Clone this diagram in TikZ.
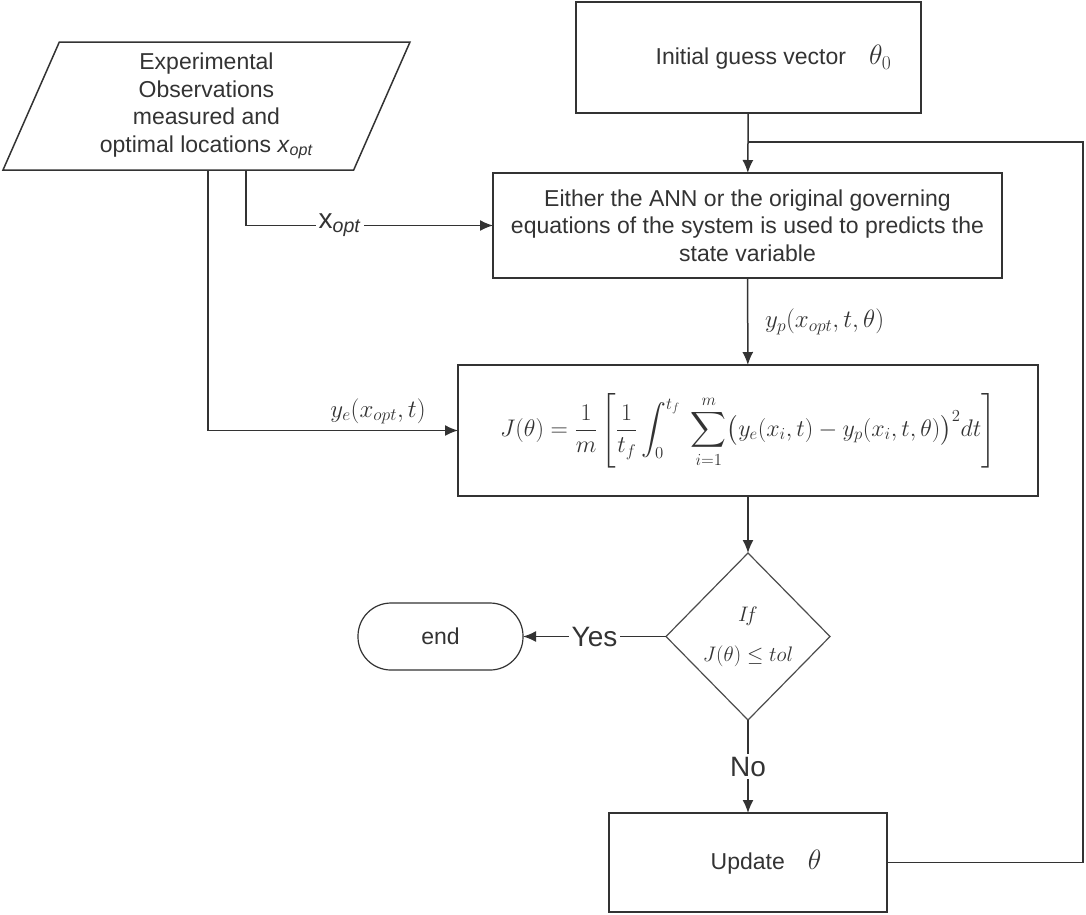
\RequirePackage{fix-cm}
\documentclass[tikz,border=0pt]{standalone}
\usepackage{amsmath}
\usepackage{fontspec}
\setmainfont{Liberation Sans}
\usetikzlibrary{shapes.geometric,arrows.meta}

\begin{document}
\begin{tikzpicture}[x=1pt, y=-1pt]

  \tikzset{
    every node/.style={
      text=black!80,
      font=\fontsize{23}{27.5}\selectfont,
      outer sep=0pt,
    },
    process/.style={
      draw=black!80,
      line width=1.5pt,
      rectangle,
      inner sep=0pt,
      align=center,
    },
    data/.style={
      draw=black!80,
      line width=1.5pt,
      trapezium,
      trapezium left angle=62,
      trapezium right angle=118,
      trapezium stretches body=true,
      minimum width=407,
      minimum height=128,
      inner sep=0pt,
      align=center,
    },
    decision/.style={
      draw=black!70,
      line width=1.2pt,
      diamond,
      minimum width=164,
      minimum height=167,
      inner sep=0pt,
      align=center,
    },
    terminal/.style={
      draw=black!80,
      line width=1.2pt,
      rectangle,
      rounded corners=33pt,
      minimum width=165,
      minimum height=67,
    },
    line/.style={
      draw=black!80,
      line width=1.5pt,
    },
    flow/.style={
      line,
      -{Latex[length=13pt,width=11pt]},
    },
    big/.style={font=\fontsize{28}{28}\selectfont},
    formula/.style={font=\fontsize{25}{25}\selectfont},
  }

  \useasboundingbox (0,0) rectangle (1086,914);

  % boxes
  \node[data] (obs) at (206.5,106)
    {Experimental\\Observations\\measured and\\optimal locations \textit{x}\textsubscript{\textit{opt}}};
  \node[process, minimum width=345, minimum height=111] (init) at (748.5,57.5)
    {\hspace*{50pt}Initial guess vector\quad{\fontsize{28}{28}\selectfont$\theta_0$}};
  \node[process, minimum width=509, minimum height=105] (ann) at (747.5,225.5)
    {Either the ANN or the original governing\\equations of the system is used to predicts the\\state variable};
  \node[process, minimum width=580, minimum height=131, font=\fontsize{24}{26}\selectfont] (cost) at (748,430.5)
    {$\displaystyle J(\theta)=\frac{1}{m}\left[\frac{1}{t_f}\int_0^{t_f}\;\sum_{i=1}^{m}\bigl(y_e(x_i,t)-y_p(x_i,t,\theta)\bigr)^2dt\right]$};
  \node[decision, font=\fontsize{21}{40}\selectfont] (test) at (748,636.5)
    {$I\!f$\\$J(\theta)\le tol$};
  \node[terminal] (stop) at (440.5,636.5) {end};
  \node[process, minimum width=278, minimum height=99] (upd) at (748,862.5)
    {\hspace*{36pt}Update\quad{\fontsize{28}{28}\selectfont$\theta$}};

  \coordinate (merge) at (748,142);

  % connectors
  \draw[flow] (init) -- (ann);
  \draw[flow] ([xshift=243pt]obs.bottom left corner) |-
    node[pos=.69, fill=white, inner sep=3pt, big] {x\textsubscript{\textit{opt}}} (ann.west);
  \draw[flow] ([xshift=205pt]obs.bottom left corner) |-
    node[pos=.84, above=3pt, formula] {$y_e(x_{opt},t)$} (cost.west);
  \draw[flow] (ann) -- node[right=14pt, formula] {$y_p(x_{opt},t,\theta)$} (cost);
  \draw[flow] (cost) -- (test);
  \draw[flow] (test) -- node[fill=white, inner sep=3pt, big] {Yes} (stop);
  \draw[flow] (test) -- node[fill=white, inner sep=3pt, big] {No} (upd);
  \draw[line] (upd.east) -- ++(196,0) |- (merge);

\end{tikzpicture}
\end{document}
